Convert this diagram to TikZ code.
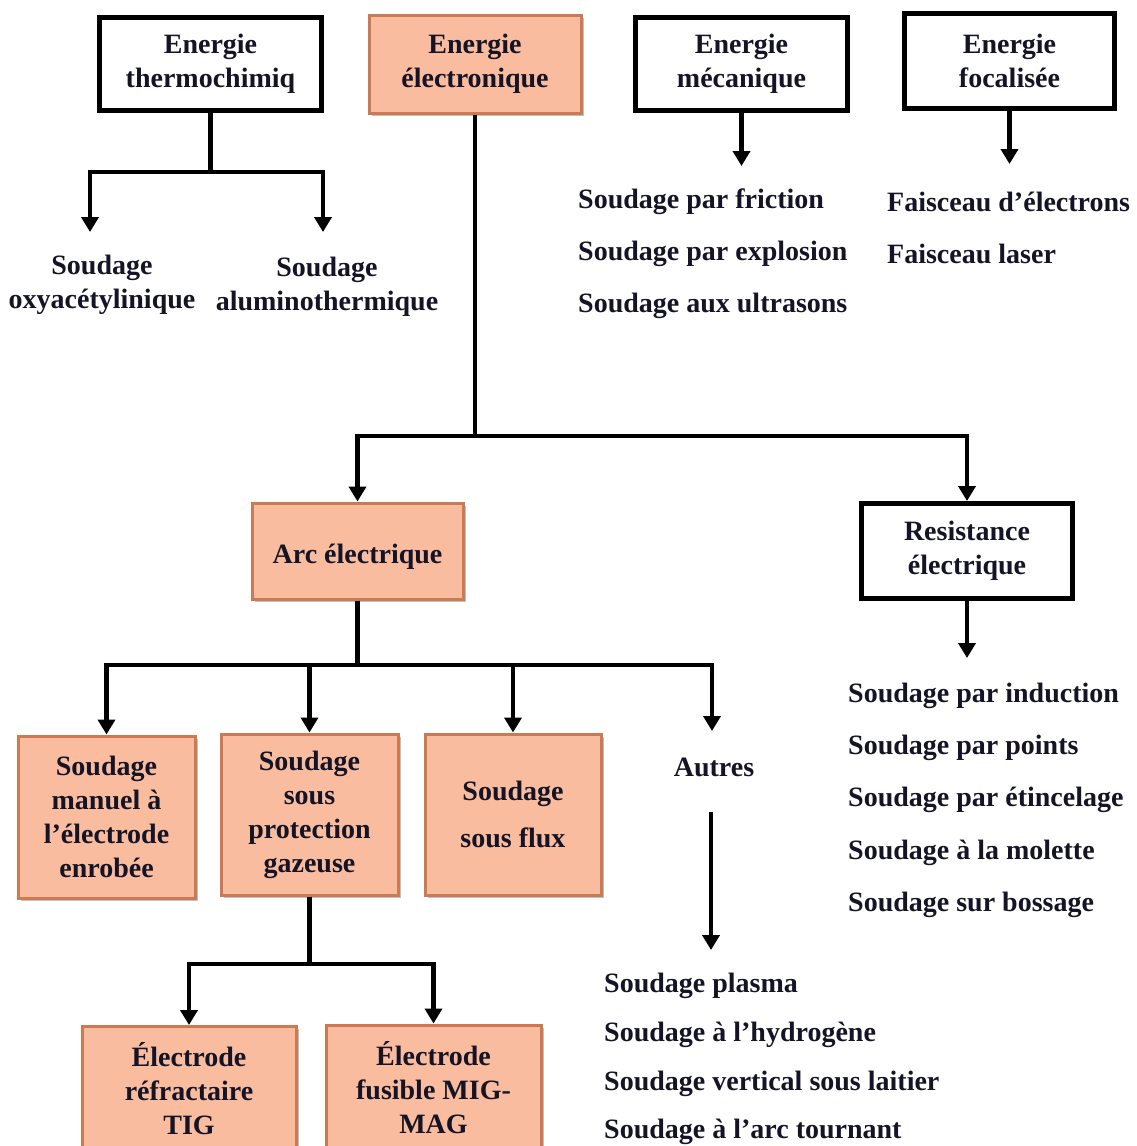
\documentclass[tikz,border=0pt]{standalone}
\usepackage{fontspec}
\setmainfont{Liberation Serif}
\usetikzlibrary{arrows.meta,shadows}
\definecolor{orfill}{RGB}{249,188,158}
\definecolor{ordraw}{RGB}{203,122,84}
\definecolor{txt}{RGB}{20,20,38}
\begin{document}
\begin{tikzpicture}[x=1pt,y=-1pt,
  font=\fontsize{28}{34}\selectfont\bfseries, text=txt,
  obox/.style={draw=ordraw, line width=3pt, fill=orfill, align=center, inner sep=0pt,
    drop shadow={opacity=0.35, shadow xshift=2.5pt, shadow yshift=-2.5pt, fill=black!70}},
  wbox/.style={draw=black, line width=5pt, fill=white, align=center, inner sep=0pt,
    drop shadow={opacity=0.25, shadow xshift=2pt, shadow yshift=-2pt, fill=black!50}},
  conn/.style={line width=4.5pt, draw=black},
  arr/.style={conn, -{Triangle[width=17pt,length=15pt]}},
  lab/.style={anchor=west, inner sep=0pt},
  ctext/.style={align=center, inner sep=0pt},
]
\useasboundingbox (0,0) rectangle (1137,1146);
\clip (0,0) rectangle (1137,1146);

% top row boxes
\node[wbox, minimum width=222pt, minimum height=93pt] (b1) at (210.5,64) {Energie\\thermochimiq};
\node[obox, minimum width=212pt, minimum height=98pt] (b2) at (475,64) {Energie\\électronique};
\node[wbox, minimum width=212pt, minimum height=93pt] (b3) at (741.5,64) {Energie\\mécanique};
\node[wbox, minimum width=210pt, minimum height=95pt] (b4) at (1009.5,61) {Energie\\focalisée};

% thermochimique branch
\coordinate (t1) at (210.5,172);
\coordinate (a1) at (90,232);
\coordinate (a2) at (323,232);
\draw[conn] (b1.south) -- (t1);
\draw[arr] (t1) -| (a1);
\draw[arr] (t1) -| (a2);
\node[ctext] (oxy) at (102,285) {Soudage\\oxyacétylinique};
\node[ctext] (alu) at (327,287) {Soudage\\aluminothermique};

% mecanique branch
\coordinate (a3) at (741.5,166);
\draw[arr] (b3.south) -- (a3);
\node[lab] (m1) at (578,202) {Soudage par friction};
\node[lab] (m2) at (578,254) {Soudage par explosion};
\node[lab] (m3) at (578,306) {Soudage aux ultrasons};

% focalisee branch
\coordinate (a4) at (1009.5,164);
\draw[arr] (b4.south) -- (a4);
\node[lab] (f1) at (887,202) {Faisceau d’électrons};
\node[lab] (f2) at (887,254) {Faisceau laser};

% electronique branch
\node[obox, minimum width=211pt, minimum height=96pt, text height=25pt, text depth=0pt] (arc) at (357.5,551) {Arc électrique};
\node[wbox, minimum width=211pt, minimum height=95pt] (res) at (967,551) {Resistance\\électrique};
\coordinate (t2) at (475,436);
\draw[conn] (b2.south) -- (t2);
\draw[arr] (t2) -| (arc.north);
\draw[arr] (t2) -| (res.north);

% resistance list
\coordinate (a5) at (967,658);
\draw[arr] (res.south) -- (a5);
\node[lab] (r1) at (848,696) {Soudage par induction};
\node[lab] (r2) at (848,748) {Soudage par points};
\node[lab] (r3) at (848,800) {Soudage par étincelage};
\node[lab] (r4) at (848,853) {Soudage à la molette};
\node[lab] (r5) at (848,905) {Soudage sur bossage};

% arc branch
\node[obox, minimum width=177pt, minimum height=162pt] (man) at (106.5,817) {Soudage\\manuel à\\l’électrode\\enrobée};
\node[obox, minimum width=177pt, minimum height=161pt] (gaz) at (309.5,814.5) {Soudage\\sous\\protection\\gazeuse};
\node[obox, minimum width=176pt, minimum height=161pt] (flux) at (513,814.5) {Soudage\\[13pt]sous flux};
\node[ctext] (autres) at (714,767) {Autres};
\coordinate (t3) at (357.5,665);
\coordinate (a6) at (712,731);
\draw[conn] (arc.south) -- (t3);
\draw[arr] (t3) -| (man.north);
\draw[arr] (t3) -| (gaz.north);
\draw[arr] (t3) -| (flux.north);
\draw[arr] (t3) -| (a6);

% autres list
\coordinate (a7) at (711,812);
\coordinate (a8) at (711,950);
\draw[arr] (a7) -- (a8);
\node[lab] (o1) at (604,986) {Soudage plasma};
\node[lab] (o2) at (604,1035) {Soudage à l’hydrogène};
\node[lab] (o3) at (604,1084) {Soudage vertical sous laitier};
\node[lab] (o4) at (604,1132) {Soudage à l’arc tournant};

% gazeuse branch
\node[obox, minimum width=214pt, minimum height=125pt] (tig) at (189,1089) {Électrode\\réfractaire\\TIG};
\node[obox, minimum width=215pt, minimum height=125pt] (mig) at (433.5,1087.5) {Électrode\\fusible MIG-\\MAG};
\coordinate (t4) at (309.5,964);
\draw[conn] (gaz.south) -- (t4);
\draw[arr] (t4) -| (tig.north);
\draw[arr] (t4) -| (mig.north);
\end{tikzpicture}
\end{document}
